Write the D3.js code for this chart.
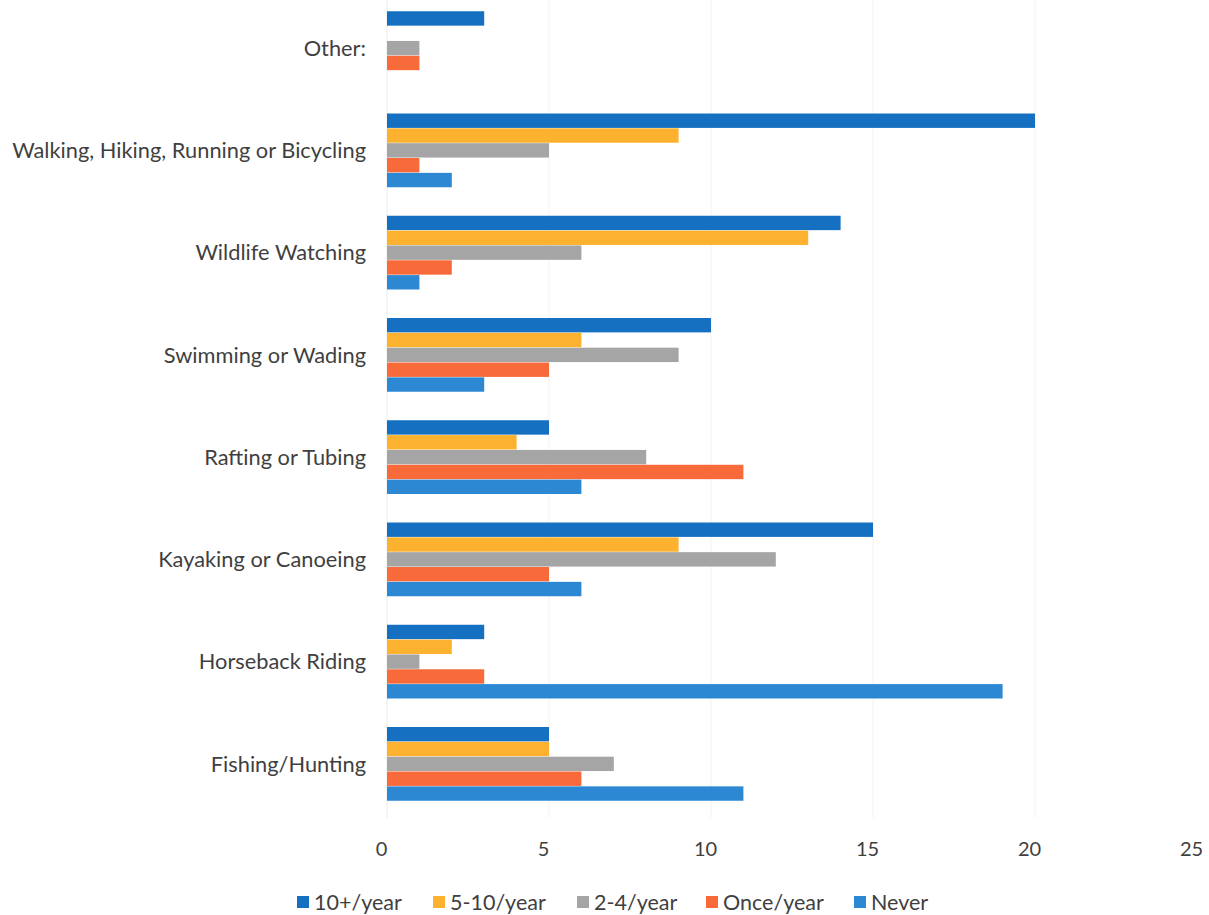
<!DOCTYPE html>
<html>
<head>
<meta charset="utf-8">
<script src="https://cdn.jsdelivr.net/npm/d3@7"></script>
<style>
  html, body { margin: 0; padding: 0; background: #ffffff; }
  svg { display: block; }
</style>
</head>
<body>
<svg id="chart" width="1209" height="915"></svg>
<script>
const categories = ["Other:", "Walking, Hiking, Running or Bicycling", "Wildlife Watching", "Swimming or Wading", "Rafting or Tubing", "Kayaking or Canoeing", "Horseback Riding", "Fishing/Hunting"];
const seriesNames = ["10+/year", "5-10/year", "2-4/year", "Once/year", "Never"];
const tenPlus   = [3, 20, 14, 10, 5, 15, 3, 5];
const fiveTen   = [0, 9, 13, 6, 4, 9, 2, 5];
const twoFour   = [1, 5, 6, 9, 8, 12, 1, 7];
const onceYear  = [1, 1, 2, 5, 11, 5, 3, 6];
const never     = [0, 2, 1, 3, 6, 6, 19, 11];
const tickValues = [0, 5, 10, 15, 20, 25];
const colors = ["#1570c2", "#fdb22f", "#a5a5a5", "#f86a3a", "#2d88d4"];

const seriesValues = [tenPlus, fiveTen, twoFour, onceYear, never];
const svg = d3.select("#chart");
const font = "Lato, 'Open Sans', sans-serif";
const textColor = "#3f3f3f";

const x = d3.scaleLinear().domain([0, 25]).range([387, 1197]);
const y = d3.scaleBand().domain(categories).range([-3, 815]).paddingInner(0.27).paddingOuter(0.135);
const ySub = d3.scaleBand().domain(seriesNames).range([0, y.bandwidth()]).padding(0.03);

// gridlines
svg.append("g").selectAll("line").data(tickValues.filter(d => d > 0 && d < 25)).join("line")
  .attr("x1", d => x(d)).attr("x2", d => x(d))
  .attr("y1", 0).attr("y2", 818)
  .attr("stroke", "#f3f3f3").attr("stroke-width", 1);
svg.append("line").attr("x1", x(0)).attr("x2", x(0)).attr("y1", 0).attr("y2", 818)
  .attr("stroke", "#ebebeb").attr("stroke-width", 1);

// bars
const rows = [];
categories.forEach((c, i) => seriesNames.forEach((s, j) => rows.push({cat: c, ser: s, val: seriesValues[j][i], col: colors[j]})));
svg.append("g").selectAll("rect").data(rows.filter(d => d.val > 0)).join("rect")
  .attr("x", x(0))
  .attr("y", d => y(d.cat) + ySub(d.ser))
  .attr("width", d => x(d.val) - x(0))
  .attr("height", ySub.bandwidth())
  .attr("fill", d => d.col);

// category labels
svg.append("g").selectAll("text").data(categories).join("text")
  .attr("x", 366)
  .attr("y", d => y(d) + y.bandwidth() / 2)
  .attr("dy", "0.35em")
  .attr("text-anchor", "end")
  .attr("font-family", font)
  .attr("font-size", 21.8)
  .attr("fill", textColor)
  .text(d => d);

// x axis
const xAxis = d3.axisBottom(x).tickValues(tickValues).tickSize(0).tickPadding(0);
const gx = svg.append("g").attr("transform", "translate(-6,849)").call(xAxis);
gx.select(".domain").remove();
gx.selectAll("text")
  .attr("font-family", font)
  .attr("font-size", 20)
  .attr("fill", textColor)
  .attr("dy", "0.35em")
  .attr("y", 0);

// legend
const legendX = [297, 433, 577, 706, 854];
const lg = svg.append("g").selectAll("g").data(seriesNames).join("g")
  .attr("transform", (d, i) => `translate(${legendX[i]},902)`);
lg.append("rect").attr("x", 0).attr("y", -6).attr("width", 12).attr("height", 12)
  .attr("fill", (d, i) => colors[i]);
lg.append("text").attr("x", 17).attr("y", 0).attr("dy", "0.35em")
  .attr("font-family", font).attr("font-size", 21.5).attr("fill", textColor)
  .text(d => d);
</script>
</body>
</html>
